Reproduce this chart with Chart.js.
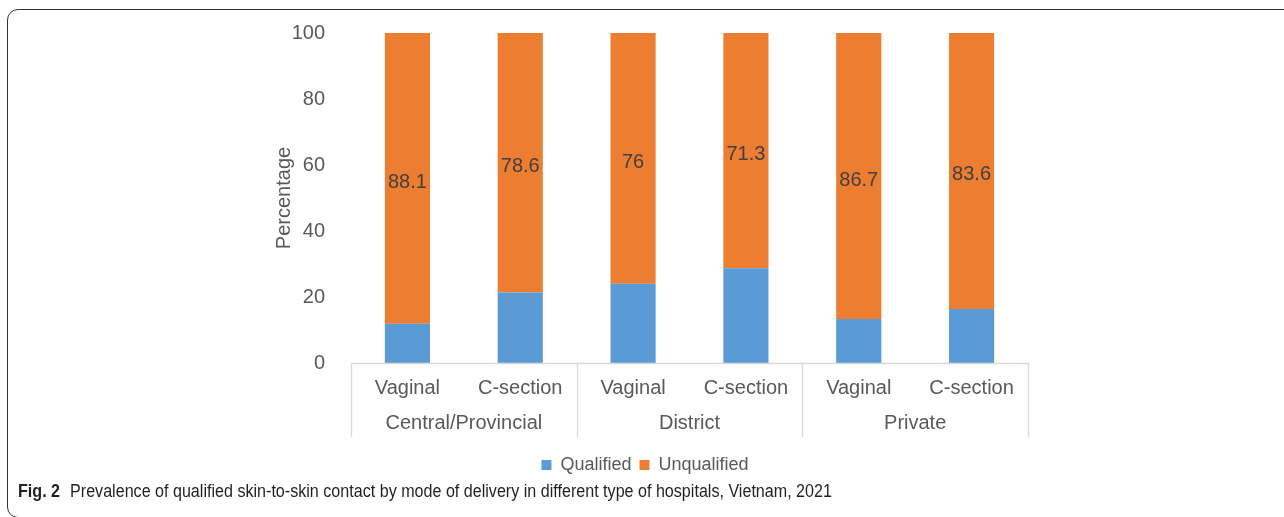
<!DOCTYPE html>
<html>
<head>
<meta charset="utf-8">
<script src="https://cdn.jsdelivr.net/npm/chart.js@4.4.1/dist/chart.umd.min.js"></script>
<style>
  html, body { margin: 0; padding: 0; background: #fff; width: 1284px; height: 517px; overflow: hidden; }
  #frame { position: absolute; left: 7px; top: 9px; width: 1320px; height: 507px; border: 1.5px solid #333; border-radius: 11px; }
  #wrap { position: absolute; left: 0; top: 0; width: 1284px; height: 484px; }
  #caption { position: absolute; left: 18px; top: 481px; font-family: "Liberation Sans", Arial, sans-serif; font-size: 17.5px; color: #231f20; white-space: nowrap; transform: scaleX(0.92); transform-origin: 0 0; }
  #caption b { margin-right: 6px; }
</style>
</head>
<body>
<div id="frame"></div>
<div id="wrap"><canvas id="chart"></canvas></div>
<div id="caption"><b>Fig. 2</b> Prevalence of qualified skin-to-skin contact by mode of delivery in different type of hospitals, Vietnam, 2021</div>
<script>
var modes = ['Vaginal', 'C-section', 'Vaginal', 'C-section', 'Vaginal', 'C-section'];
var hospitals = ['Central/Provincial', 'District', 'Private'];
var qualified = [11.9, 21.4, 24, 28.7, 13.3, 16.4];
var unqualified = [88.1, 78.6, 76, 71.3, 86.7, 83.6];
var yTicks = [0, 20, 40, 60, 80, 100];

var font = '"Liberation Sans", Arial, sans-serif';
var grey = '#595959';

// group labels and separators under the x axis
var groupPlugin = {
  id: 'groups',
  afterDraw(chart) {
    var ctx = chart.ctx;
    var x = chart.scales.x;
    var top = x.top;
    var per = modes.length / hospitals.length;
    ctx.save();
    ctx.strokeStyle = '#d9d9d9';
    ctx.lineWidth = 1.3;
    ctx.beginPath();
    ctx.moveTo(chart.chartArea.left, top + 0.5);
    ctx.lineTo(chart.chartArea.right, top + 0.5);
    for (var g = 0; g <= hospitals.length; g++) {
      var px = g === hospitals.length ? chart.chartArea.right : (g === 0 ? chart.chartArea.left : (x.getPixelForValue(g * per - 1) + x.getPixelForValue(g * per)) / 2);
      px = Math.round(px) + 0.5;
      ctx.moveTo(px, top);
      ctx.lineTo(px, top + 74);
    }
    ctx.stroke();
    ctx.fillStyle = grey;
    ctx.font = '20px ' + font;
    ctx.textAlign = 'center';
    ctx.textBaseline = 'middle';
    for (var i = 0; i < hospitals.length; i++) {
      var c = (x.getPixelForValue(i * per) + x.getPixelForValue(i * per + per - 1)) / 2;
      ctx.fillText(hospitals[i], c, top + 60);
    }
    ctx.restore();
  }
};

// values in the orange segments
var valuePlugin = {
  id: 'values',
  afterDatasetsDraw(chart) {
    var ctx = chart.ctx;
    var meta = chart.getDatasetMeta(1);
    ctx.save();
    ctx.fillStyle = '#404040';
    ctx.font = '20px ' + font;
    ctx.textAlign = 'center';
    ctx.textBaseline = 'middle';
    meta.data.forEach(function (bar, i) {
      ctx.fillText(String(unqualified[i]), bar.x, (bar.y + bar.base) / 2 + 4);
    });
    ctx.restore();
  }
};

new Chart(document.getElementById('chart'), {
  type: 'bar',
  data: {
    labels: modes,
    datasets: [
      { label: 'Qualified', data: qualified, backgroundColor: '#5b9bd5' },
      { label: 'Unqualified', data: unqualified, backgroundColor: '#ed7d31' }
    ]
  },
  options: {
    responsive: true,
    maintainAspectRatio: false,
    animation: false,
    layout: { padding: { left: 262, right: 256, top: 33, bottom: 0 } },
    plugins: {
      tooltip: { enabled: false },
      legend: {
        position: 'bottom',
        labels: { font: { family: font, size: 18 }, color: grey, boxWidth: 10, boxHeight: 10, padding: 8, useBorderRadius: false }
      }
    },
    datasets: { bar: { categoryPercentage: 1, barPercentage: 0.4 } },
    scales: {
      x: {
        stacked: true,
        grid: { display: false },
        border: { display: false },
        ticks: { font: { family: font, size: 20 }, color: grey, padding: 5, maxRotation: 0 },
        afterFit(s) { s.height = 85; }
      },
      y: {
        stacked: true,
        min: 0,
        max: 100,
        afterBuildTicks(s) { s.ticks = yTicks.map(function (v) { return { value: v }; }); },
        grid: { display: false },
        border: { display: false },
        ticks: { font: { family: font, size: 20 }, color: grey, padding: 18 },
        title: { display: true, text: 'Percentage', font: { family: font, size: 20 }, color: grey, padding: { top: 10, bottom: 0 } },
        afterFit(s) { s.width = 89; }
      }
    }
  },
  plugins: [groupPlugin, valuePlugin]
});
</script>
</body>
</html>
